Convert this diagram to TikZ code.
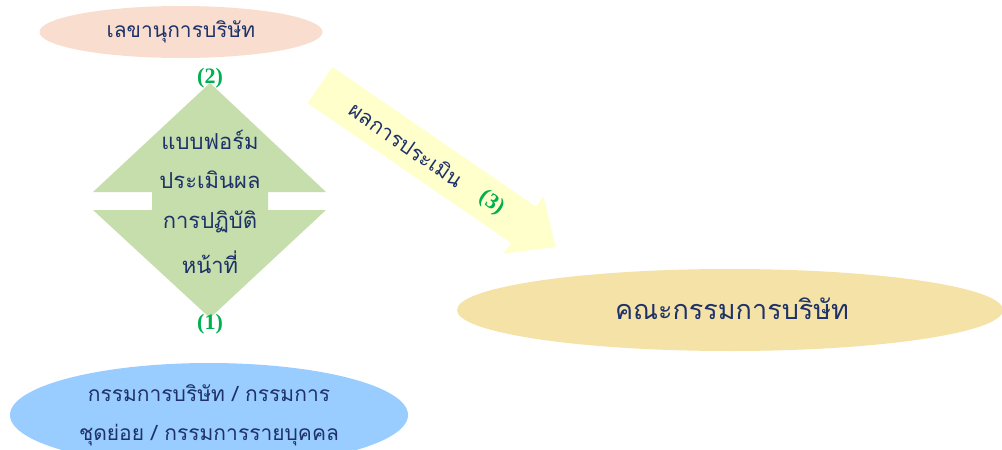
\documentclass[tikz,border=0pt]{standalone}
\usepackage{fontspec}
\setmainfont{Liberation Serif}
\newfontfamily\thaifont[Script=Thai]{Loma}
\usetikzlibrary{shapes.geometric}
\definecolor{navytext}{RGB}{30,50,105}
\definecolor{numgreen}{RGB}{0,176,80}
\definecolor{peachfill}{RGB}{249,222,208}
\definecolor{diamondfill}{RGB}{197,222,172}
\definecolor{arrowfill}{RGB}{255,255,204}
\definecolor{boardfill}{RGB}{244,226,166}
\definecolor{bluefill}{RGB}{153,204,255}
\tikzset{
  blob/.style={ellipse, draw=none, inner sep=0pt},
  thaitxt/.style={text=navytext, font=\thaifont\fontsize{#1}{#1}\selectfont, inner sep=0pt},
  numlbl/.style={text=numgreen, font=\bfseries\fontsize{22}{22}\selectfont, inner sep=0pt},
}
\begin{document}
\begin{tikzpicture}[x=1pt,y=-1pt]
\useasboundingbox (0,0) rectangle (1002,450);
\begin{scope}
\clip (0,0) rectangle (1002,450);
% ellipses
\node[blob, fill=peachfill, minimum width=283, minimum height=52] (sec) at (181,32) {};
\node[blob, fill=boardfill, minimum width=546, minimum height=82] (board) at (730,310) {};
\node[blob, fill=bluefill, minimum width=398, minimum height=104] (dirs) at (209,415) {};
% double arrow / diamond
\fill[diamondfill] (210,83) -- (326,192) -- (268,192) -- (268,210) -- (326,210)
  -- (210,318) -- (93,210) -- (152,210) -- (152,192) -- (93,192) -- cycle;
% evaluation arrow
\begin{scope}[shift={(320,85)}, rotate=-34.5]
  \fill[arrowfill] (0,-22) -- (247,-22) -- (247,-35) -- (286,0) -- (247,35) -- (247,22) -- (0,22) -- cycle;
  \node[thaitxt=21, rotate=-34.5] (res) at (105,0) {ผลการประเมิน};
  \node[numlbl, rotate=-34.5] (n3) at (208,0) {(3)};
\end{scope}
\end{scope}
% texts
\node[thaitxt=21] (sectxt) at (sec.center) {เลขานุการบริษัท};
\node[thaitxt=27] (boardtxt) at (732,309) {คณะกรรมการบริษัท};
\node[thaitxt=22] (f1) at (210,140) {แบบฟอร์ม};
\node[thaitxt=22] (f2) at (210,180) {ประเมินผล};
\node[thaitxt=22] (f3) at (210,222) {การปฏิบัติ};
\node[thaitxt=22] (f4) at (210,262) {หน้าที่};
\node[thaitxt=21] (d1) at (209,393) {กรรมการบริษัท / กรรมการ};
\node[thaitxt=21] (d2) at (209,435) {ชุดย่อย / กรรมการรายบุคคล};
\node[numlbl] (n2) at (210,78) {(2)};
\node[numlbl] (n1) at (210,324) {(1)};
\end{tikzpicture}
\end{document}
